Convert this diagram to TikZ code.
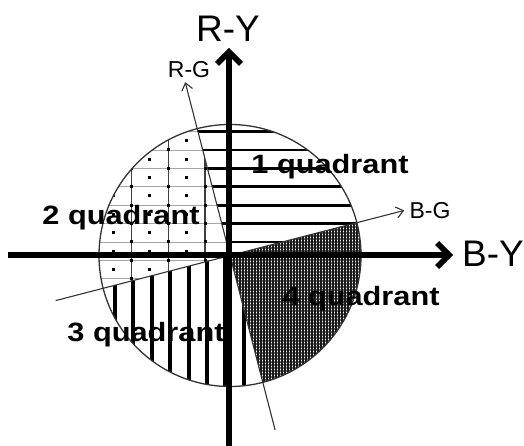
\documentclass[tikz,border=0pt]{standalone}
\usepackage{fontspec}
\setmainfont{Liberation Sans}
\usepackage{tikz}
\usetikzlibrary{arrows.meta,patterns.meta}
\newcommand{\qtext}[1]{\scalebox{1.16}[1]{\bfseries #1}}

\tikzset{
  axisline/.style={line width=5.5pt,-{Straight Barb[length=12pt,width=24pt]}},
  phaseline/.style={line width=1.1pt,black!80,-{Straight Barb[length=7pt,width=11pt]}},
  rim/.style={line width=1.3pt,black!80},
  qonehatch/.style={line width=2.8pt},
  qtwovert/.style={line width=1.1pt,black!75},
  qtwohor/.style={line width=0.9pt,black!35},
  qthreehatch/.style={line width=4pt},
  qlabel/.style={inner sep=0pt,anchor=base,font=\fontsize{26.5}{30}\selectfont},
  axislabel/.style={inner sep=0pt,font=\fontsize{37}{40}\selectfont},
  phaselabel/.style={inner sep=0pt,anchor=base,font=\fontsize{23}{28}\selectfont}
}

\begin{document}
\begin{tikzpicture}[x=1pt,y=1pt]
\useasboundingbox (-230,-190.5) rectangle (294,255.5);
\begin{scope}
\clip (0,0) -- (14.5:131) arc[start angle=14.5,end angle=104.5,radius=131] -- cycle;
\foreach \j in {0,...,6} \draw[qonehatch] (-40,13.5+18.4*\j) -- (140,13.5+18.4*\j);
\end{scope}
\begin{scope}
\clip (0,0) -- (104.5:131) arc[start angle=104.5,end angle=194.5,radius=131] -- cycle;
\foreach \j in {-2,...,6} \draw[qtwohor] (-140,13.5+18.4*\j) -- (10,13.5+18.4*\j);
\foreach \i in {0,...,3} \draw[qtwovert] (-25-36.7*\i,-60) -- (-25-36.7*\i,140);
\foreach \i in {0,...,3} \foreach \j in {-2,...,6} {
  \fill[shift={(-25-36.7*\i,13.5+18.4*\j)}] (-1.5,-1.5) rectangle (1.5,1.5);
  \fill[shift={(-43.35-36.7*\i,22.7+18.4*\j)}] (-1.5,-1.5) rectangle (1.5,1.5);
}
\end{scope}
\begin{scope}
\clip (0,0) -- (194.5:131) arc[start angle=194.5,end angle=284.5,radius=131] -- cycle;
\foreach \k in {0,...,7} \draw[qthreehatch] (-115+18.4*\k,-140) -- (-115+18.4*\k,10);
\end{scope}
\fill[pattern={Hatch[distance=3pt,line width=1.1pt]},pattern color=black!90]
  (0,0) -- (-75.5:131) arc[start angle=-75.5,end angle=14.5,radius=131] -- cycle;
\draw[rim] (0,0) circle[radius=131];
\coordinate (rgfoot) at (284.5:180);
\coordinate (rgtip) at (104.5:179);
\coordinate (bgfoot) at (194.5:180);
\coordinate (bgtip) at (14.5:180);
\draw[phaseline] (rgfoot) -- (rgtip);
\draw[phaseline] (bgfoot) -- (bgtip);
\coordinate (rybot) at (-1,-191);
\coordinate (rytop) at (-1,207.5);
\coordinate (bybeg) at (-222,0.5);
\coordinate (byend) at (223,0.5);
\draw[axisline] (rybot) -- (rytop);
\draw[axisline] (bybeg) -- (byend);
\node[axislabel,anchor=base] (rylabel) at (-2,213.5) {R-Y};
\node[axislabel,anchor=base west] (bylabel) at (232,-11.2) {B-Y};
\node[phaselabel] (rglabel) at (-41,178.2) {R-G};
\node[phaselabel] (bglabel) at (200,36.5) {B-G};
\node[qlabel] (qone) at (100,81.5) {\qtext{1 quadrant}};
\node[qlabel] (qtwo) at (-109,30.5) {\qtext{2 quadrant}};
\node[qlabel] (qthree) at (-84,-86.2) {\qtext{3 quadrant}};
\node[qlabel] (qfour) at (131,-50.5) {\qtext{4 quadrant}};
\end{tikzpicture}
\end{document}
